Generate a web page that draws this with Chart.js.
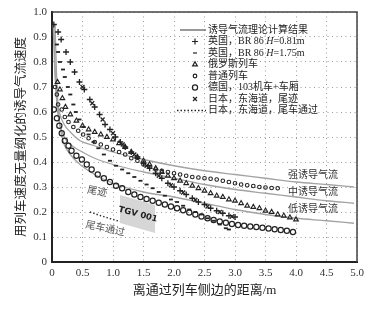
<!DOCTYPE html>
<html>
<head>
<meta charset="utf-8">
<script src="https://cdn.jsdelivr.net/npm/chart.js@4.4.0/dist/chart.umd.min.js"></script>
<style>
  html, body { margin: 0; padding: 0; background: #fff; }
</style>
</head>
<body>
<canvas id="myChart" width="375" height="311"></canvas>
<script>
// tick labels
var xTickLabels = ['0', '0.5', '1.0', '1.5', '2.0', '2.5', '3.0', '3.5', '4.0', '4.5', '5.0'];
var yTickLabels = ['0', '0.1', '0.2', '0.3', '0.4', '0.5', '0.6', '0.7', '0.8', '0.9', '1.0'];

// 英国 BR 86 H=0.81m  (+)
var ukLowX = [0.03, 0.1, 0.15, 0.23, 0.3, 0.37, 0.45, 0.53, 0.62, 0.7, 0.78, 0.87, 0.95, 1.04, 1.12, 1.2, 1.3, 1.4, 1.5, 1.6, 1.7, 1.8, 1.9, 2.0, 2.1, 2.2, 2.3, 2.4, 2.5, 2.6, 2.7, 2.8, 2.9, 3.0];
var ukLowY = [0.95, 0.92, 0.89, 0.84, 0.80, 0.76, 0.72, 0.69, 0.65, 0.62, 0.59, 0.55, 0.53, 0.50, 0.48, 0.46, 0.44, 0.42, 0.395, 0.375, 0.355, 0.335, 0.315, 0.30, 0.285, 0.27, 0.255, 0.24, 0.23, 0.215, 0.205, 0.195, 0.185, 0.18];

// 英国 BR 86 H=1.75m  (-)
var ukHighX = [0.08, 0.1, 0.13, 0.18, 0.21, 0.26, 0.3, 0.35, 0.39, 0.45, 0.52, 0.6, 0.68, 0.76, 0.85, 0.95, 1.05, 1.15, 1.25, 1.35, 1.45, 1.55, 1.65, 1.75, 1.85, 1.95, 2.05, 2.15, 2.25, 2.35, 2.45, 2.55, 2.65, 2.75, 2.85, 2.9];
var ukHighY = [0.87, 0.84, 0.80, 0.77, 0.74, 0.70, 0.67, 0.63, 0.60, 0.57, 0.54, 0.51, 0.48, 0.455, 0.43, 0.405, 0.385, 0.37, 0.355, 0.34, 0.325, 0.31, 0.295, 0.28, 0.265, 0.25, 0.24, 0.225, 0.21, 0.2, 0.19, 0.175, 0.165, 0.15, 0.135, 0.13];

// 俄罗斯列车 (triangle)
var ruX = [0.09, 0.13, 0.17, 0.22, 0.3, 0.4, 0.5, 0.6, 0.7, 0.8, 0.9, 1.0, 1.1, 1.2, 1.3, 1.4, 1.5, 1.6, 1.7, 1.8, 1.9, 2.0, 2.1, 2.2, 2.3, 2.4, 2.5, 2.6, 2.7, 2.8, 2.9, 3.0, 3.1, 3.2, 3.3, 3.4, 3.5, 3.6, 3.7, 3.8, 3.9, 4.0];
var ruY = [0.72, 0.69, 0.655, 0.62, 0.59, 0.565, 0.545, 0.53, 0.52, 0.51, 0.50, 0.49, 0.475, 0.46, 0.44, 0.42, 0.405, 0.39, 0.375, 0.36, 0.345, 0.335, 0.325, 0.315, 0.305, 0.295, 0.285, 0.275, 0.265, 0.26, 0.25, 0.245, 0.235, 0.225, 0.22, 0.215, 0.205, 0.2, 0.19, 0.185, 0.178, 0.17];

// 普通列车 (small diamond)
var normX = [0.05, 0.08, 0.1, 0.16, 0.21, 0.27, 0.35, 0.43, 0.51, 0.6, 0.7, 0.8, 0.9, 1.0, 1.1, 1.2, 1.3, 1.4, 1.5, 1.6, 1.7, 1.8, 1.9, 2.0, 2.1, 2.2, 2.3, 2.4, 2.5, 2.6, 2.7, 2.8, 2.9, 3.0, 3.1, 3.2, 3.3, 3.4, 3.5, 3.6, 3.7];
var normY = [0.70, 0.67, 0.63, 0.61, 0.58, 0.56, 0.54, 0.525, 0.51, 0.495, 0.48, 0.47, 0.46, 0.45, 0.44, 0.43, 0.415, 0.405, 0.39, 0.38, 0.37, 0.365, 0.36, 0.355, 0.35, 0.345, 0.34, 0.338, 0.335, 0.333, 0.33, 0.325, 0.32, 0.315, 0.31, 0.307, 0.304, 0.30, 0.298, 0.296, 0.295];

// 德国 103机车+车厢 (circle)
var deX = [0.03, 0.08, 0.12, 0.16, 0.21, 0.27, 0.32, 0.4, 0.49, 0.57, 0.65, 0.75, 0.85, 0.95, 1.05, 1.15, 1.25, 1.35, 1.45, 1.55, 1.65, 1.75, 1.85, 1.95, 2.05, 2.15, 2.25, 2.35, 2.45, 2.55, 2.65, 2.75, 2.85, 2.95, 3.05, 3.15, 3.25, 3.35, 3.45, 3.55, 3.65, 3.75, 3.85, 3.95];
var deY = [0.61, 0.575, 0.545, 0.515, 0.485, 0.465, 0.445, 0.425, 0.41, 0.39, 0.37, 0.35, 0.335, 0.32, 0.305, 0.295, 0.28, 0.27, 0.26, 0.252, 0.245, 0.237, 0.23, 0.222, 0.215, 0.207, 0.198, 0.19, 0.182, 0.175, 0.168, 0.162, 0.157, 0.152, 0.148, 0.145, 0.142, 0.14, 0.137, 0.134, 0.131, 0.128, 0.125, 0.12];

// 日本 东海道 尾迹 (x)
var jpWakeX = [0.5, 0.66, 0.83, 1.0, 1.16, 1.35, 1.55, 1.75, 1.95, 2.15, 2.35, 2.55, 2.75, 2.95];
var jpWakeY = [0.70, 0.635, 0.57, 0.515, 0.47, 0.43, 0.385, 0.345, 0.307, 0.278, 0.248, 0.222, 0.2, 0.182];

// 日本 东海道 尾车通过 (dotted)
var jpTailX = [0.62, 0.8, 1.0, 1.22];
var jpTailY = [0.2, 0.185, 0.17, 0.155];

// 诱导气流理论计算结果: strong / medium / low
var strongX = [0.02, 0.04, 0.07, 0.12, 0.2, 0.3, 0.46, 0.7, 1.0, 1.5, 2.0, 2.5, 3.0, 3.5, 4.0, 4.5, 4.95];
var strongY = [0.95, 0.8, 0.68, 0.6, 0.55, 0.52, 0.485, 0.465, 0.44, 0.41, 0.385, 0.365, 0.35, 0.335, 0.32, 0.31, 0.30];
var mediumX = [0.03, 0.05, 0.08, 0.13, 0.2, 0.3, 0.46, 0.7, 1.0, 1.5, 2.0, 2.5, 3.0, 3.5, 4.0, 4.5, 4.95];
var mediumY = [0.95, 0.78, 0.63, 0.55, 0.5, 0.47, 0.445, 0.415, 0.39, 0.36, 0.335, 0.31, 0.29, 0.275, 0.26, 0.245, 0.235];
var lowX = [0.05, 0.07, 0.1, 0.14, 0.2, 0.3, 0.46, 0.7, 1.0, 1.5, 2.0, 2.5, 3.0, 3.5, 4.0, 4.5, 4.95];
var lowY = [0.95, 0.78, 0.62, 0.53, 0.47, 0.43, 0.39, 0.35, 0.315, 0.28, 0.26, 0.235, 0.21, 0.19, 0.175, 0.165, 0.155];

var legendLabels = ['诱导气流理论计算结果', '英国，BR 86 H=0.81m', '英国，BR 86 H=1.75m', '俄罗斯列车', '普通列车', '德国，103机车+车厢', '日本，东海道，尾迹', '日本，东海道，尾车通过'];
var curveLabels = ['强诱导气流', '中诱导气流', '低诱导气流'];

function pts(xs, ys) {
  var out = [];
  for (var i = 0; i < xs.length; i++) out.push({ x: xs[i], y: ys[i] });
  return out;
}

var serif = '"Liberation Serif", "Noto Sans CJK SC", serif';
var ink = '#222';

function theory(xs, ys) {
  return {
    data: pts(xs, ys), showLine: true, borderColor: '#a3a3a3', borderWidth: 1.3,
    pointRadius: 0, cubicInterpolationMode: 'monotone', order: 5
  };
}
function marks(xs, ys, style, r, bw) {
  return {
    data: pts(xs, ys), showLine: false, pointStyle: style, pointRadius: r,
    pointBorderWidth: bw, borderColor: ink, backgroundColor: 'rgba(0,0,0,0)', order: 1
  };
}

var datasets = [
  theory(strongX, strongY),
  theory(mediumX, mediumY),
  theory(lowX, lowY),
  marks(ukLowX, ukLowY, 'cross', 3, 1.3),
  marks(ukHighX, ukHighY, 'line', 2, 1.8),
  marks(ruX, ruY, 'triangle', 2.7, 1.1),
  marks(normX, normY, 'circle', 1.8, 1.1),
  marks(deX, deY, 'circle', 2.6, 1.2),
  marks(jpWakeX, jpWakeY, 'crossRot', 2.8, 1.2),
  {
    data: pts(jpTailX, jpTailY), showLine: true, borderColor: '#333', borderWidth: 1.4,
    borderDash: [1.5, 2], pointRadius: 0, order: 1
  }
];

// legend rows: dataset index used for the marker
var legendRows = [0, 3, 4, 5, 6, 7, 8, 9];

var extras = {
  id: 'extras',
  afterDraw: function (chart) {
    var ctx = chart.ctx;
    var a = chart.chartArea;
    var xs = chart.scales.x, ys = chart.scales.y;
    ctx.save();
    // top and right frame
    ctx.strokeStyle = '#444';
    ctx.lineWidth = 1.5;
    ctx.beginPath();
    ctx.moveTo(a.left, a.top);
    ctx.lineTo(a.right, a.top);
    ctx.lineTo(a.right, a.bottom);
    ctx.stroke();

    // legend
    var lx = a.right - 177, ly = a.top + 18, step = 11.5;
    ctx.textBaseline = 'middle';
    for (var i = 0; i < legendRows.length; i++) {
      var ds = chart.data.datasets[legendRows[i]];
      var y = ly + i * step;
      ctx.strokeStyle = ink;
      ctx.fillStyle = 'rgba(0,0,0,0)';
      if (i == 0) {
        ctx.strokeStyle = '#555';
        ctx.lineWidth = 1.2;
        ctx.beginPath(); ctx.moveTo(lx, y); ctx.lineTo(lx + 26, y); ctx.stroke();
      } else if (i == legendRows.length - 1) {
        ctx.lineWidth = 1.4;
        ctx.setLineDash([1.5, 2]);
        ctx.beginPath(); ctx.moveTo(lx - 3, y); ctx.lineTo(lx + 26, y); ctx.stroke();
        ctx.setLineDash([]);
      } else {
        Chart.helpers.drawPoint(ctx, {
          pointStyle: ds.pointStyle, radius: ds.pointRadius, rotation: 0,
          borderWidth: ds.pointBorderWidth
        }, lx + 15, y);
      }
      var label = legendLabels[i];
      var tx = lx + 28;
      ctx.fillStyle = '#222';
      ctx.textAlign = 'left';
      var parts = label.split('H');
      ctx.font = '10px ' + serif;
      ctx.fillText(parts[0], tx, y);
      if (parts.length > 1) {
        tx += ctx.measureText(parts[0]).width;
        ctx.font = 'italic 10px ' + serif;
        ctx.fillText('H', tx, y);
        tx += ctx.measureText('H').width;
        ctx.font = '10px ' + serif;
        ctx.fillText(parts[1], tx, y);
      }
    }

    // curve labels
    ctx.fillStyle = '#333';
    ctx.font = '10px ' + serif;
    ctx.textAlign = 'left';
    var cy = [0.348, 0.28, 0.212];
    for (var k = 0; k < curveLabels.length; k++) {
      ctx.fillText(curveLabels[k], xs.getPixelForValue(3.87), ys.getPixelForValue(cy[k]));
    }

    // 尾迹 / 尾车通过
    ctx.fillStyle = '#555';
    ctx.textAlign = 'center';
    ctx.save();
    ctx.translate(xs.getPixelForValue(0.74), ys.getPixelForValue(0.28));
    ctx.rotate(10 * Math.PI / 180);
    ctx.fillText('尾迹', 0, 0);
    ctx.restore();
    ctx.save();
    ctx.translate(xs.getPixelForValue(0.87), ys.getPixelForValue(0.132));
    ctx.rotate(12 * Math.PI / 180);
    ctx.fillText('尾车通过', 0, 0);
    ctx.restore();

    // TGV 001 box
    var box = [[1.115, 0.268], [1.69, 0.228], [1.69, 0.116], [1.115, 0.156]];
    ctx.fillStyle = '#d6d6d6';
    ctx.beginPath();
    for (var j = 0; j < box.length; j++) {
      var px = xs.getPixelForValue(box[j][0]), py = ys.getPixelForValue(box[j][1]);
      if (j == 0) ctx.moveTo(px, py); else ctx.lineTo(px, py);
    }
    ctx.closePath();
    ctx.fill();
    ctx.save();
    ctx.translate(xs.getPixelForValue(1.41), ys.getPixelForValue(0.19));
    ctx.rotate(15 * Math.PI / 180);
    ctx.fillStyle = '#222';
    ctx.font = 'bold 8.5px "DejaVu Sans", sans-serif';
    ctx.fillText('TGV 001', 0, 0);
    ctx.restore();

    ctx.restore();
  }
};

var ctx = document.getElementById('myChart').getContext('2d');
var myChart = new Chart(ctx, {
  type: 'scatter',
  data: { datasets: datasets },
  options: {
    responsive: false,
    animation: false,
    devicePixelRatio: 1,
    layout: { padding: { top: 12, right: 18, left: 0, bottom: 0 } },
    plugins: { legend: { display: false }, tooltip: { enabled: false } },
    scales: {
      x: {
        type: 'linear', min: 0, max: 5,
        afterFit: function (s) { s.height = 49; },
        ticks: {
          stepSize: 0.5, padding: 5, color: '#333',
          font: { family: serif, size: 11 },
          callback: function (v, i) { return xTickLabels[i]; }
        },
        grid: { color: '#9c9c9c', lineWidth: 1, drawTicks: false },
        border: { display: true, color: '#222', width: 2, dash: [1, 3.5] },
        title: {
          display: true, text: '离通过列车侧边的距离/m', color: '#222',
          font: { family: serif, size: 13 }, padding: { top: 0, bottom: 13 }
        }
      },
      y: {
        type: 'linear', min: 0, max: 1,
        afterFit: function (s) { s.width = 52; },
        ticks: {
          stepSize: 0.1, padding: 5, color: '#333',
          font: { family: serif, size: 11 },
          callback: function (v, i) { return yTickLabels[i]; }
        },
        grid: { color: '#9c9c9c', lineWidth: 1, drawTicks: false },
        border: { display: true, color: '#222', width: 2, dash: [1, 3.5] },
        title: {
          display: true, text: '用列车速度无量纲化的诱导气流速度', color: '#222',
          font: { family: serif, size: 12.5 }, padding: { top: 14, bottom: 0 }
        }
      }
    }
  },
  plugins: [extras]
});
</script>
</body>
</html>
